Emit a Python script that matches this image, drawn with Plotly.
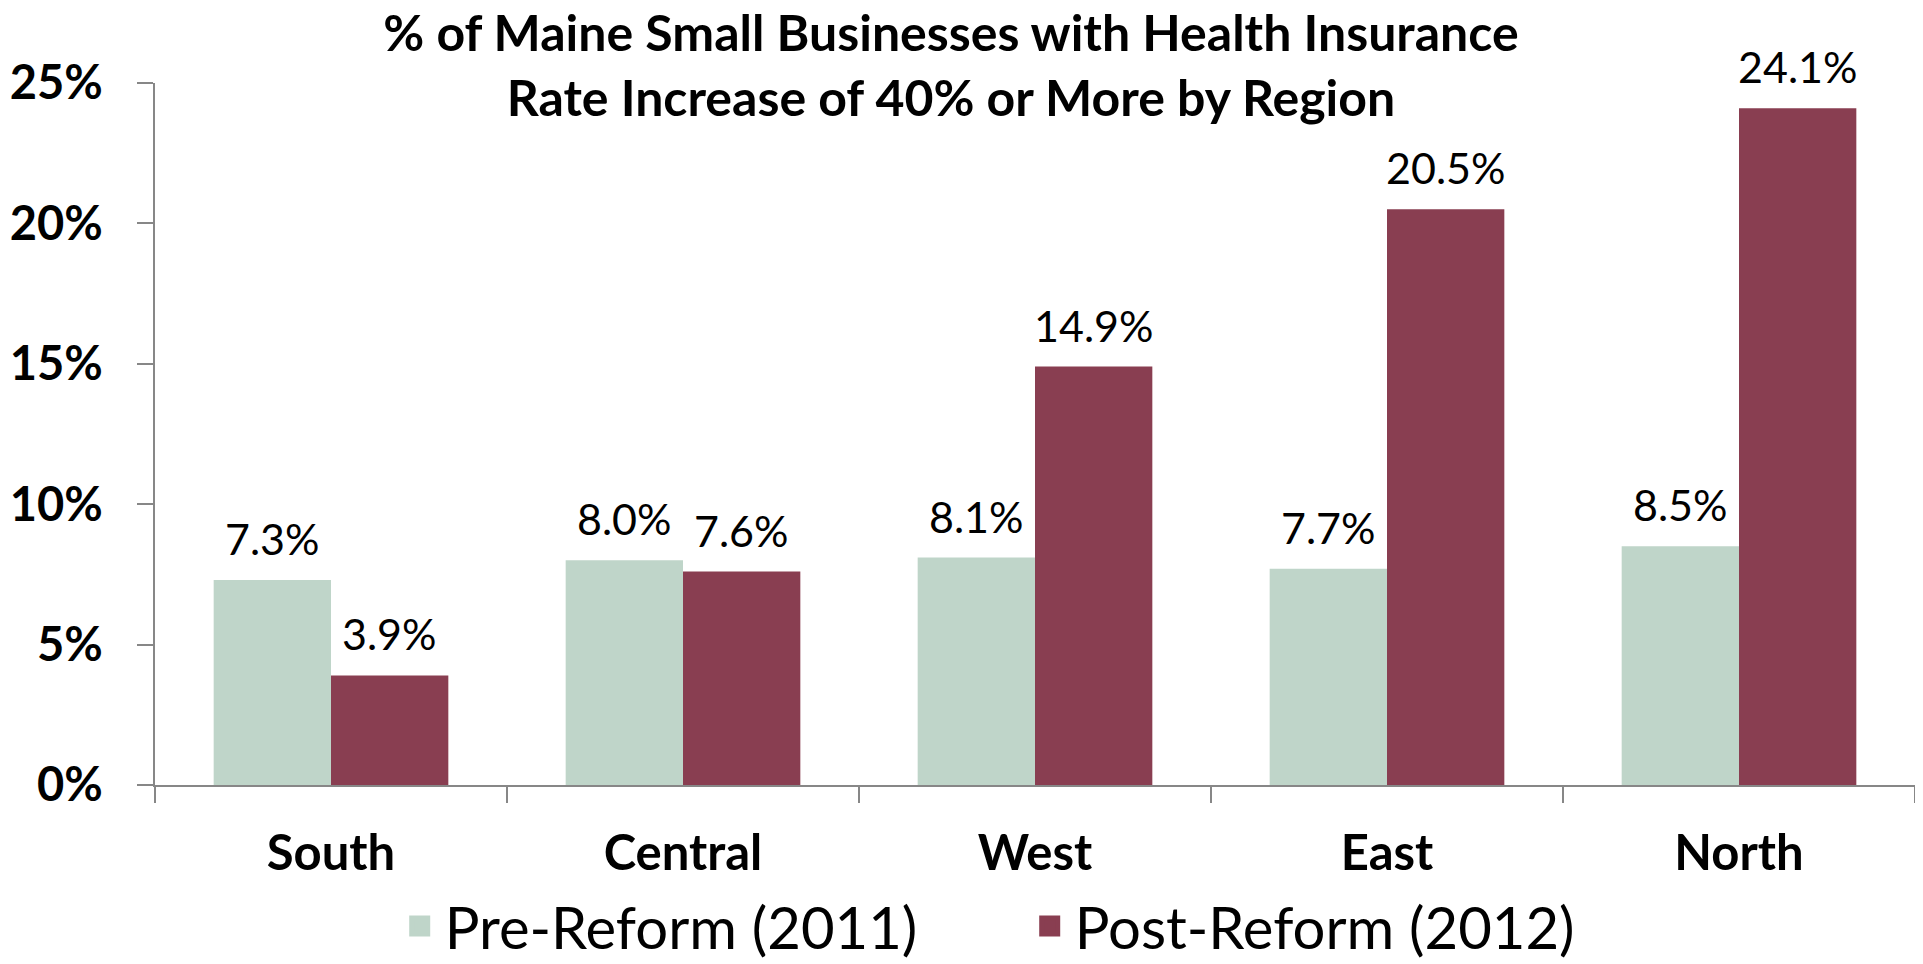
import plotly.graph_objects as go

regions = ["South", "Central", "West", "East", "North"]
pre_reform = [7.3, 8.0, 8.1, 7.7, 8.5]
post_reform = [3.9, 7.6, 14.9, 20.5, 24.1]
series_names = ["Pre-Reform (2011)", "Post-Reform (2012)"]
y_ticks = [0, 5, 10, 15, 20, 25]
title_lines = ["% of Maine Small Businesses with Health Insurance",
               "Rate Increase of 40% or More by Region"]

PRE_COLOR = "#BFD5C9"
POST_COLOR = "#893E51"
AXIS_COLOR = "#878787"
FONT = "Lato, 'Open Sans', sans-serif"

# the page places the figure 8px from the top-left corner, so the figure is 8px smaller
W, H = 1915, 956
ML, MR, MT, MB = 146.5, 8, 75, 178.6
BARGAP = 1 / 3

fig = go.Figure()
fig.add_trace(go.Bar(x=regions, y=pre_reform, name=series_names[0],
                     marker=dict(color=PRE_COLOR, line=dict(width=0)), showlegend=False))
fig.add_trace(go.Bar(x=regions, y=post_reform, name=series_names[1],
                     marker=dict(color=POST_COLOR, line=dict(width=0)), showlegend=False))

# legend-only entries with larger square swatches
for nm, col in zip(series_names, [PRE_COLOR, POST_COLOR]):
    fig.add_trace(go.Scatter(x=[None], y=[None], mode="markers", name=nm,
                             marker=dict(symbol="square", size=30, color=col,
                                         line=dict(color=col, width=5))))

# data labels
plot_w = W - ML - MR
half_bar = plot_w / len(regions) * (1 - BARGAP) / 4
annotations = []
for vals, sign in [(pre_reform, -1), (post_reform, 1)]:
    for r, v in zip(regions, vals):
        annotations.append(dict(x=r, y=v, xref="x", yref="y", text=f"{v:.1f}%",
                                showarrow=False, yanchor="bottom", xanchor="center",
                                xshift=sign * half_bar, yshift=14,
                                font=dict(family=FONT, size=43, color="black")))

fig.update_layout(
    width=W, height=H,
    margin=dict(l=ML, r=MR, t=MT, b=MB, pad=0, autoexpand=False),
    paper_bgcolor="white", plot_bgcolor="white",
    barmode="group", bargap=BARGAP, bargroupgap=0,
    title=dict(text="<br>".join(title_lines), x=0.4924, xref="container", xanchor="center",
               y=0.9550, yref="container", yanchor="top",
               font=dict(family=FONT, size=50, color="black", weight="bold")),
    legend=dict(orientation="h", x=0.1362, xanchor="left", y=-0.2012, yanchor="middle",
                font=dict(family=FONT, size=58, color="black"),
                itemwidth=40, entrywidth=575, tracegroupgap=0, bgcolor="rgba(0,0,0,0)"),
    annotations=annotations,
    xaxis=dict(type="category", range=[-0.5, len(regions) - 0.5], automargin=False,
               showline=True, linecolor=AXIS_COLOR, linewidth=1.5,
               ticks="outside", tickson="boundaries", ticklen=16, tickcolor=AXIS_COLOR, tickwidth=1.5,
               ticklabelstandoff=24,
               tickfont=dict(family=FONT, size=49, color="black", weight="bold"),
               showgrid=False, zeroline=False),
    yaxis=dict(range=[0, 25], tickvals=y_ticks, ticktext=[f"{t}%" for t in y_ticks], automargin=False,
               showline=True, linecolor=AXIS_COLOR, linewidth=1.5,
               ticks="outside", ticklen=16, tickcolor=AXIS_COLOR, tickwidth=1.5,
               ticklabelstandoff=25,
               tickfont=dict(family=FONT, size=47, color="black", weight="bold"),
               showgrid=False, zeroline=False),
    font=dict(family=FONT),
)

fig.write_html("out.html")
